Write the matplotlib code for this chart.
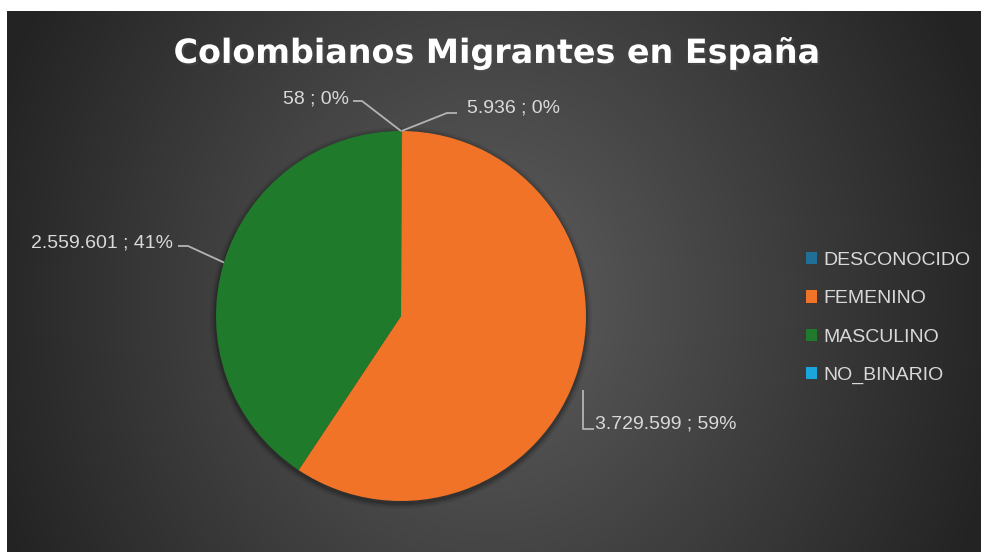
import numpy as np
import matplotlib.pyplot as plt
import matplotlib.patheffects as pe
from matplotlib.patches import Circle

categories = ['DESCONOCIDO', 'FEMENINO', 'MASCULINO', 'NO_BINARIO']
values = [5936, 3729599, 2559601, 58]
colors = ['#1f6f96', '#f07327', '#1f7a2b', '#1aa6dc']

# label layout (pixels, y down): text anchor, ha, leader elbow points
label_pos = [(467, 108, 'left'), (595, 424, 'left'), (173, 243, 'right'), (349, 99, 'right')]
leader_pts = [[(447, 113), (457, 113)],
              [(583, 390), (583, 429), (594, 429)],
              [(188, 246), (178, 246)],
              [(362, 101), (353, 101)]]

W, H = 981, 552
cx, cy, r = 401, 316, 185

fig = plt.figure(figsize=(W / 100, H / 100), dpi=100, facecolor='white')
ax = fig.add_axes([0, 0, 1, 1])

# radial background
xx, yy = np.meshgrid(np.linspace(7, W, 400), np.linspace(11, H, 240))
d = np.sqrt(((xx - 490) / 500) ** 2 + ((yy - 300) / 560) ** 2)
g = np.clip(0.37 - 0.22 * d, 0.14, 1)
ax.imshow(np.dstack([g, g, g]), extent=(7, W, H, 11), aspect='auto', zorder=0,
          interpolation='bilinear')

# soft shadow under pie
for k, a in [(6, 0.06), (4, 0.10), (2, 0.18)]:
    ax.add_patch(Circle((cx, cy + 2), r + k, color='black', alpha=a, lw=0, zorder=1))

wedges, _ = ax.pie(values, colors=colors, startangle=-90, counterclock=True,
                   center=(cx, cy), radius=r, wedgeprops=dict(linewidth=0, zorder=2))
for w in wedges:
    w.set_zorder(2)

ax.set_xlim(0, W)
ax.set_ylim(H, 0)
ax.set_aspect('auto')
ax.axis('off')

total = sum(values)


def fmt(v):
    return f'{v:,}'.replace(',', '.')


for i, w in enumerate(wedges):
    mid = np.radians((w.theta1 + w.theta2) / 2)
    px, py = cx + r * np.cos(mid), cy + r * np.sin(mid)
    pts = leader_pts[i]
    if i == 1:
        xs = [p[0] for p in pts]
        ys = [p[1] for p in pts]
    else:
        xs = [px] + [p[0] for p in pts]
        ys = [py] + [p[1] for p in pts]
    ax.plot(xs, ys, color='#b4b4b4', lw=1.3, zorder=3, solid_capstyle='butt')
    tx, ty, ha = label_pos[i]
    pct = round(values[i] / total * 100)
    ax.text(tx, ty, f'{fmt(values[i])} ; {pct}%', ha=ha, va='center',
            fontsize=14, color='#d9d9d9', family='Liberation Sans', zorder=4)

ax.text(497, 53, 'Colombianos Migrantes en España', ha='center', va='center',
        fontsize=24, fontweight='bold', color='white', family='DejaVu Sans',
        path_effects=[pe.withSimplePatchShadow(offset=(1.5, -1.5), alpha=0.5)])

leg = ax.legend(wedges, categories, loc='center left',
                bbox_to_anchor=(788 / W, 1 - 318 / H), bbox_transform=fig.transFigure,
                frameon=False, prop={'family': 'Liberation Sans', 'size': 14},
                labelcolor='#d9d9d9', handlelength=0.6, handleheight=0.6,
                handletextpad=0.3, labelspacing=1.1)

fig.savefig('out.png', dpi=100, facecolor='white')
